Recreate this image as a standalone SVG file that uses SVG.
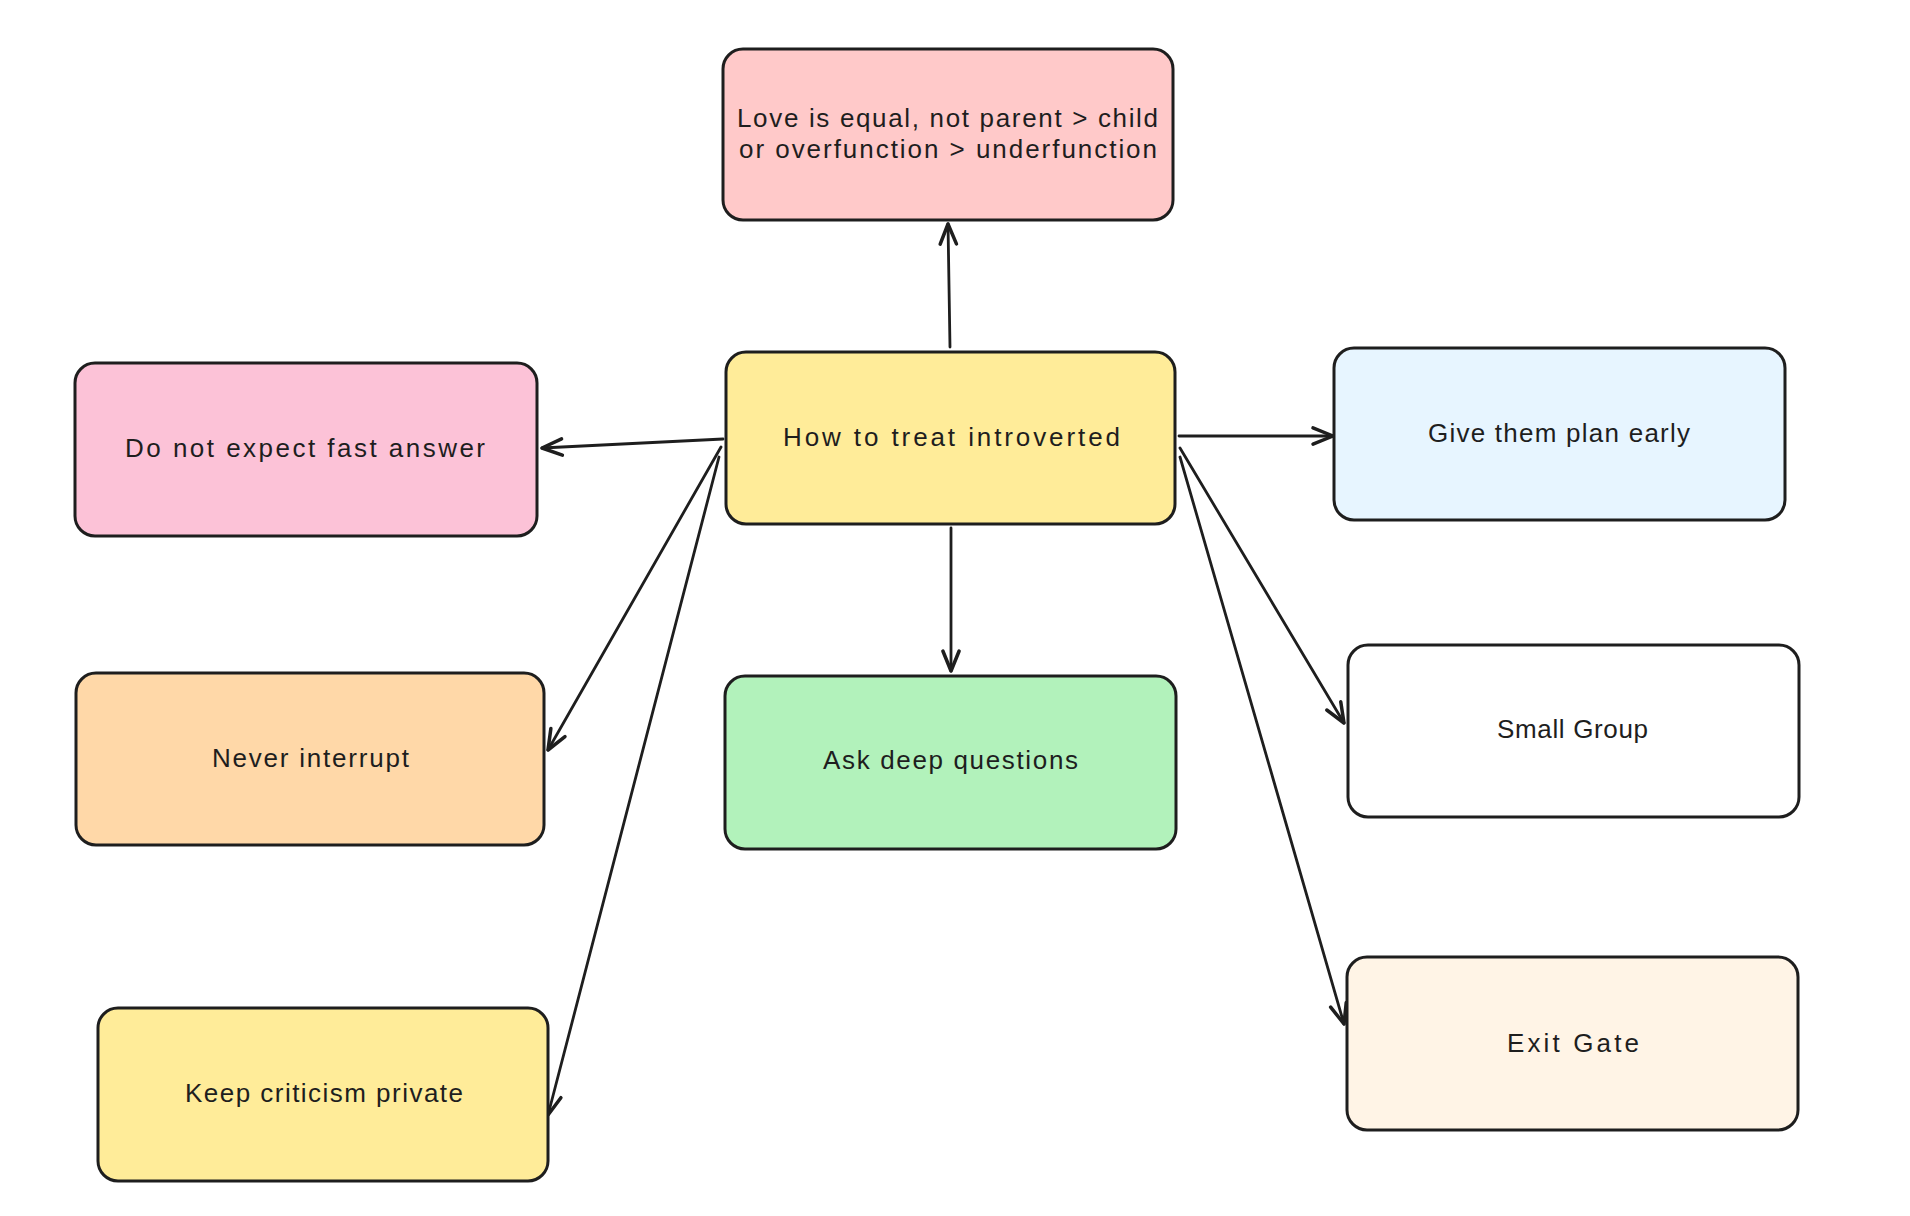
<svg xmlns="http://www.w3.org/2000/svg" width="1910" height="1216" viewBox="0 0 1910 1216">
<style>
.box{stroke:#1e1e1e;stroke-width:3;}
.lbl{font-family:"Liberation Sans","DejaVu Sans",sans-serif;font-size:26px;fill:#1e1e1e;}
.edge{fill:none;stroke:#1e1e1e;stroke-width:2.8;stroke-linecap:round;}
</style>
<defs>
<marker id="arr" markerUnits="userSpaceOnUse" markerWidth="30" markerHeight="30" viewBox="-20 -10 24 20" refX="0" refY="0" orient="auto">
<path d="M -16 -6.5 L 0 0 L -16 6.5" fill="none" stroke="#1e1e1e" stroke-width="2.8" stroke-linecap="round" stroke-linejoin="round"/>
</marker>
</defs>
<rect width="1910" height="1216" fill="#ffffff"/>
<g id="connectors">
<path class="edge" d="M 950 347 L 948 224" marker-end="url(#arr)"/>
<path class="edge" d="M 723 439 L 542 448" marker-end="url(#arr)"/>
<path class="edge" d="M 1179 436 L 1333 436" marker-end="url(#arr)"/>
<path class="edge" d="M 951 528 L 951 671" marker-end="url(#arr)"/>
<path class="edge" d="M 721 447 L 548 750" marker-end="url(#arr)"/>
<path class="edge" d="M 719 457 L 548 1115" marker-end="url(#arr)"/>
<path class="edge" d="M 1180 448 L 1344 723" marker-end="url(#arr)"/>
<path class="edge" d="M 1180 457 L 1344 1024" marker-end="url(#arr)"/>
</g>
<g id="node-love">
<rect class="box" x="723" y="49" width="450" height="171" rx="20" fill="#ffc9c9"/>
<text class="lbl" x="737" y="127" textLength="421" lengthAdjust="spacing">Love is equal, not parent &gt; child</text>
<text class="lbl" x="739" y="158" textLength="418" lengthAdjust="spacing">or overfunction &gt; underfunction</text>
</g>
<g id="node-center">
<rect class="box" x="726" y="352" width="449" height="172" rx="20" fill="#ffec99"/>
<text class="lbl" x="783" y="446" textLength="337" lengthAdjust="spacing">How to treat introverted</text>
</g>
<g id="node-fast">
<rect class="box" x="75" y="363" width="462" height="173" rx="20" fill="#fcc2d7"/>
<text class="lbl" x="125" y="457" textLength="360" lengthAdjust="spacing">Do not expect fast answer</text>
</g>
<g id="node-plan">
<rect class="box" x="1334" y="348" width="451" height="172" rx="20" fill="#e7f5ff"/>
<text class="lbl" x="1428" y="442" textLength="262" lengthAdjust="spacing">Give them plan early</text>
</g>
<g id="node-interrupt">
<rect class="box" x="76" y="673" width="468" height="172" rx="20" fill="#ffd8a8"/>
<text class="lbl" x="212" y="767" textLength="197" lengthAdjust="spacing">Never interrupt</text>
</g>
<g id="node-deep">
<rect class="box" x="725" y="676" width="451" height="173" rx="20" fill="#b2f2bb"/>
<text class="lbl" x="823" y="769" textLength="255" lengthAdjust="spacing">Ask deep questions</text>
</g>
<g id="node-small">
<rect class="box" x="1348" y="645" width="451" height="172" rx="20" fill="#ffffff"/>
<text class="lbl" x="1497" y="738" textLength="151" lengthAdjust="spacing">Small Group</text>
</g>
<g id="node-exit">
<rect class="box" x="1347" y="957" width="451" height="173" rx="20" fill="#fff4e6"/>
<text class="lbl" x="1507" y="1052" textLength="132" lengthAdjust="spacing">Exit Gate</text>
</g>
<g id="node-keep">
<rect class="box" x="98" y="1008" width="450" height="173" rx="20" fill="#ffec99"/>
<text class="lbl" x="185" y="1102" textLength="278" lengthAdjust="spacing">Keep criticism private</text>
</g>
</svg>
